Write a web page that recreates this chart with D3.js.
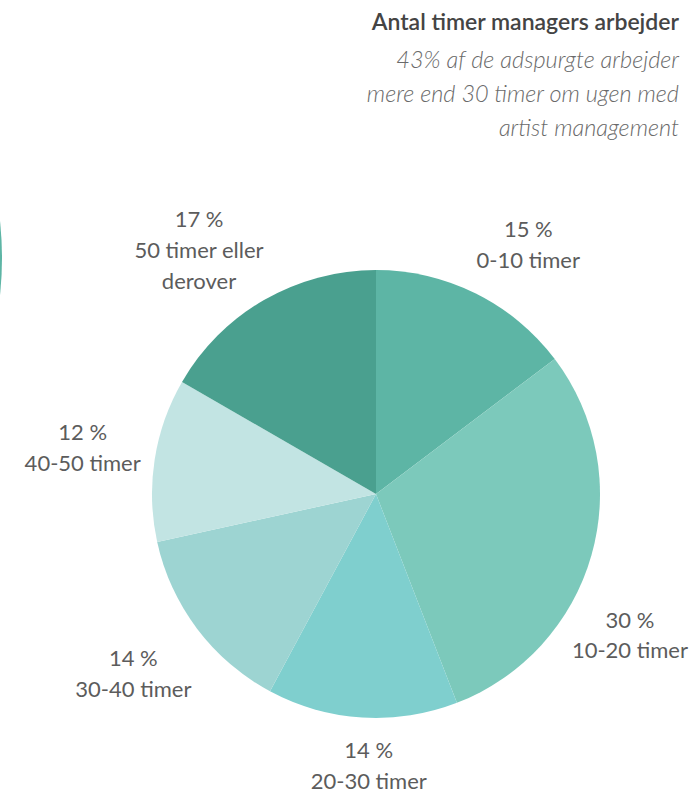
<!DOCTYPE html>
<html>
<head>
<meta charset="utf-8">
<script src="https://cdn.jsdelivr.net/npm/d3@7"></script>
<style>
  html, body { margin: 0; padding: 0; background: #fff; }
  svg { display: block; }
  text { font-family: Lato, "Open Sans", sans-serif; }
</style>
</head>
<body>
<svg id="chart" width="694" height="796"></svg>
<script>
// Hours per week spent on artist management (share of respondents, %)
const categories = ["0-10 timer", "10-20 timer", "20-30 timer", "30-40 timer", "40-50 timer", "50 timer eller derover"];
const values = [15, 30, 14, 14, 12, 17];
const colors = ["#5db5a5", "#7cc9bb", "#7fcfce", "#9dd4d2", "#c2e4e3", "#4aa08f"];
// label lines (category split for wrapping)
const labelLines = [["0-10 timer"], ["10-20 timer"], ["20-30 timer"], ["30-40 timer"], ["40-50 timer"], ["50 timer eller", "derover"]];
const title = "Antal timer managers arbejder";
const subtitle = ["43% af de adspurgte arbejder", "mere end 30 timer om ugen med", "artist management"];

// small angular tweaks (degrees) so the labels sit clear of each other
const labelAngleShift = [5, 12, -2, 0.5, 0.2, -6];

const W = 694, H = 796;
const cx = 376, cy = 494, R = 224;
const margin = 6;
const svg = d3.select("#chart");

// partial ring of a neighbouring pie, cut by the left edge
svg.append("circle")
  .attr("cx", -340).attr("cy", 258).attr("r", 342)
  .attr("fill", "#5db5a5");

// heading
const head = svg.append("g").attr("text-anchor", "end");
head.append("text")
  .attr("x", 679).attr("y", 30)
  .attr("font-size", 23).attr("font-weight", 600).attr("fill", "#444")
  .text(title);
subtitle.forEach((s, i) => {
  head.append("text")
    .attr("x", 679).attr("y", 68 + i * 34)
    .attr("font-size", 23.5).attr("font-style", "italic").attr("font-weight", 300)
    .attr("fill", "#6a6a6a")
    .text(s);
});

// pie
const data = categories.map((c, i) => ({ category: c, value: values[i], color: colors[i], lines: labelLines[i], shift: labelAngleShift[i] }));
const pie = d3.pie().value(d => d.value).sort(null);
const arcs = pie(data);
const arc = d3.arc().innerRadius(0).outerRadius(R);

const g = svg.append("g").attr("transform", `translate(${cx},${cy})`);
g.selectAll("path")
  .data(arcs)
  .join("path")
  .attr("d", arc)
  .attr("fill", d => d.data.color);

// labels: value line + category lines, pushed out until the text box clears the pie
const lineH = 31;
const gap = 10;
const vExt = 36;
const labels = g.selectAll("g.label")
  .data(arcs)
  .join("g")
  .attr("class", "label");

labels.each(function(d) {
  const el = d3.select(this);
  const lines = [d.data.value + " %"].concat(d.data.lines);
  const t = el.append("text")
    .attr("text-anchor", "middle")
    .attr("font-size", 22)
    .attr("font-weight", 400)
    .attr("fill", "#5c5c5c");
  lines.forEach((l, i) => {
    t.append("tspan")
      .attr("x", 0)
      .attr("y", (i - (lines.length - 1) / 2) * lineH)
      .attr("dy", "0.35em")
      .text(l);
  });
  const bb = t.node().getBBox();
  const halfW = bb.width / 2;
  const a = (d.startAngle + d.endAngle) / 2 + d.data.shift * Math.PI / 180;
  const ext = halfW * Math.abs(Math.sin(a)) + vExt * Math.abs(Math.cos(a));
  const r = R + gap + ext;
  // keep every label inside the drawing area
  let x = r * Math.sin(a);
  const y = -r * Math.cos(a);
  x = Math.max(-cx + margin + halfW, Math.min(W - cx - margin - halfW, x));
  el.attr("transform", `translate(${x},${y})`);
});
</script>
</body>
</html>
